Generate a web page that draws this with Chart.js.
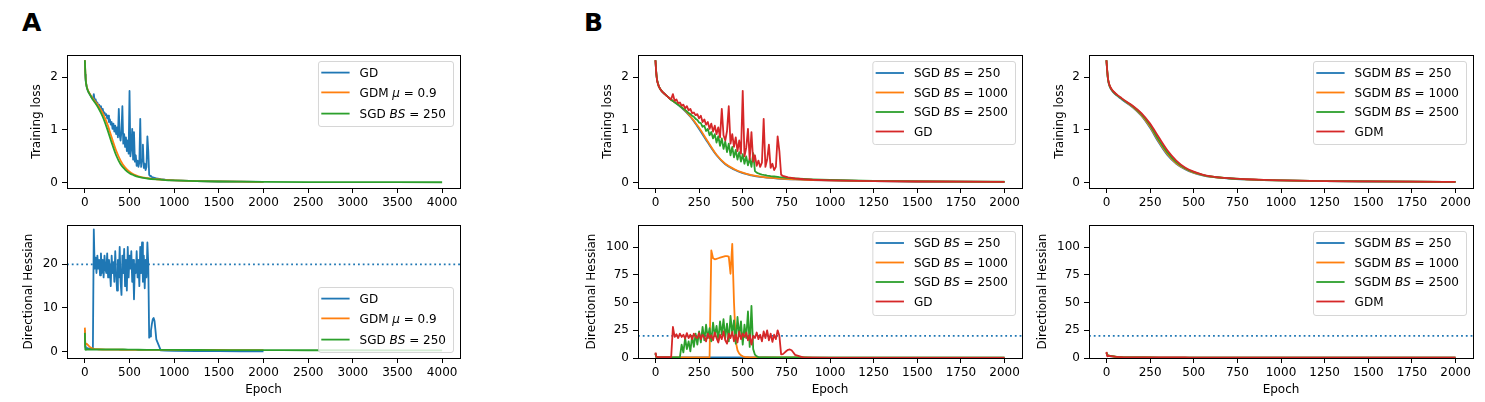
<!DOCTYPE html>
<html>
<head>
<meta charset="utf-8">
<script src="https://cdn.jsdelivr.net/npm/chart.js@4.4.0/dist/chart.umd.min.js"></script>
<style>
  html, body { margin: 0; padding: 0; background: #fff; }
  body { width: 1485px; height: 402px; position: relative; overflow: hidden; }
  canvas { position: absolute; }
  .tag { position: absolute; font: bold 25px "DejaVu Sans", sans-serif; line-height: 25px; color: #000; }
</style>
</head>
<body>
<div class="tag" style="left:22px; top:10px">A</div>
<div class="tag" style="left:584px; top:10px">B</div>
<script>
// ---- logged epochs ----
const epochsFine = [0, 5, 10, 20, 30, 40, 50, 60, 70, 80, 90, 100,
  110, 120, 130, 140, 150, 160, 170, 180, 190, 200,
  210, 220, 230, 240, 250, 260, 270, 280, 290, 300,
  310, 320, 330, 340, 350, 360, 370, 380, 390, 400,
  410, 420, 430, 440, 450, 460, 470, 480, 490, 500,
  510, 520, 530, 540, 550, 560, 570, 580, 590, 600,
  610, 620, 630, 640, 650, 660, 670, 680, 690, 700,
  710, 720, 730, 740, 750, 760, 770, 780, 790, 800,
  850, 900, 1000, 1250, 1500, 1750, 2000];
const epochsCoarse = [0, 5, 10, 20, 40, 60, 80, 100, 150, 200, 250, 300, 350, 400, 450, 500,
  550, 600, 700, 800, 900, 1000, 1250, 1500, 1750, 2000];
const epochsLong = [0, 5, 10, 20, 40, 60, 80, 100, 150, 200, 250, 300, 350, 400, 450, 500,
  550, 600, 700, 800, 900, 1000, 1250, 1500, 1750, 2000, 2500, 3000, 3500, 4000];

// ---- training loss ----
const gdLoss = [2.32, 2.05, 1.92, 1.82, 1.76, 1.72, 1.69, 1.66, 1.63, 1.60, 1.58, 1.68,
  1.55, 1.58, 1.51, 1.52, 1.46, 1.48, 1.41, 1.45, 1.37, 1.40,
  1.32, 1.33, 1.28, 1.30, 1.22, 1.27, 1.15, 1.20, 1.10, 1.15,
  1.02, 1.12, 0.97, 1.08, 0.92, 1.05, 0.86, 1.40, 0.90, 0.80,
  0.98, 1.45, 0.74, 0.92, 0.68, 0.86, 0.60, 0.80, 0.55, 1.74,
  0.50, 0.66, 1.02, 0.44, 0.96, 0.40, 0.52, 0.32, 0.42, 0.30,
  0.38, 1.21, 0.30, 0.44, 0.72, 0.28, 0.36, 0.24, 0.30, 0.88,
  0.60, 0.15, 0.13, 0.12, 0.11, 0.10, 0.095, 0.09, 0.085, 0.08,
  0.066, 0.056, 0.045, 0.031, 0.023, 0.019, 0.016];
const sgd2500Loss = [2.32, 2.06, 1.93, 1.82, 1.76, 1.72, 1.69, 1.66, 1.63, 1.60, 1.57, 1.55,
  1.53, 1.50, 1.48, 1.45, 1.43, 1.40, 1.38, 1.35, 1.32, 1.30,
  1.27, 1.25, 1.21, 1.19, 1.14, 1.13, 1.06, 1.08, 0.98, 1.02,
  0.90, 0.96, 0.84, 0.92, 0.76, 0.88, 0.70, 0.84, 0.64, 0.78,
  0.58, 0.74, 0.52, 0.68, 0.48, 0.62, 0.44, 0.58, 0.40, 0.54,
  0.36, 0.50, 0.33, 0.46, 0.30, 0.56, 0.22, 0.19, 0.175, 0.165,
  0.155, 0.148, 0.142, 0.136, 0.131, 0.126, 0.122, 0.118, 0.114, 0.110,
  0.106, 0.103, 0.100, 0.097, 0.094, 0.091, 0.089, 0.086, 0.084, 0.082,
  0.072, 0.064, 0.052, 0.036, 0.027, 0.021, 0.018];
const sgd250Loss = [2.32, 2.08, 1.94, 1.82, 1.72, 1.66, 1.60, 1.55, 1.42, 1.25, 1.02, 0.76, 0.52, 0.35, 0.25, 0.18,
  0.14, 0.11, 0.08, 0.062, 0.05, 0.043, 0.03, 0.023, 0.019, 0.016, 0.013, 0.011, 0.010, 0.009];
const sgd1000Loss = [2.32, 2.08, 1.94, 1.82, 1.72, 1.66, 1.60, 1.55, 1.43, 1.26, 1.04, 0.78, 0.53, 0.36, 0.26, 0.19,
  0.145, 0.115, 0.082, 0.064, 0.052, 0.044, 0.031, 0.024, 0.02, 0.017];
const gdmLoss = [2.32, 2.10, 1.95, 1.83, 1.73, 1.67, 1.62, 1.57, 1.46, 1.32, 1.12, 0.86, 0.61, 0.42, 0.29, 0.21,
  0.155, 0.122, 0.086, 0.066, 0.053, 0.045, 0.032, 0.025, 0.02, 0.017];
const sgdm250Loss = [2.32, 2.08, 1.93, 1.81, 1.71, 1.65, 1.60, 1.55, 1.43, 1.27, 1.04, 0.76, 0.52, 0.36, 0.255, 0.185,
  0.14, 0.11, 0.08, 0.062, 0.05, 0.043, 0.03, 0.023, 0.019, 0.016];
const sgdm1000Loss = [2.32, 2.09, 1.94, 1.82, 1.72, 1.66, 1.61, 1.56, 1.44, 1.28, 1.06, 0.78, 0.54, 0.37, 0.265, 0.19,
  0.145, 0.113, 0.082, 0.063, 0.051, 0.044, 0.031, 0.024, 0.019, 0.016];
const sgdm2500Loss = [2.32, 2.09, 1.94, 1.82, 1.72, 1.66, 1.61, 1.56, 1.45, 1.30, 1.09, 0.81, 0.57, 0.39, 0.275, 0.2,
  0.15, 0.118, 0.085, 0.065, 0.052, 0.045, 0.032, 0.024, 0.02, 0.017];

// ---- directional hessian ----
const gdHess = [5.0, 1.2, 0.9, 0.8, 0.8, 0.7, 0.7, 0.7, 0.7, 0.7, 0.8, 28.0,
  19.0, 21.5, 18.0, 22.0, 19.0, 21.0, 17.5, 22.5, 18.0, 21.0,
  17.0, 22.0, 19.0, 18.0, 22.5, 17.0, 21.0, 19.0, 15.0, 22.0,
  18.0, 20.5, 16.0, 23.0, 18.0, 14.0, 21.0, 17.0, 24.0, 16.0,
  13.0, 22.0, 18.0, 23.5, 15.0, 21.0, 14.0, 24.0, 17.0, 22.0,
  19.0, 23.0, 16.0, 21.0, 12.0, 20.0, 18.0, 23.0, 17.0, 21.0,
  15.0, 24.0, 18.0, 25.0, 16.0, 22.0, 14.5, 21.0, 17.0, 25.0,
  20.0, 3.2, 3.5, 4.8, 6.3, 7.4, 7.7, 7.0, 5.0, 2.8,
  0.3, 0.25, 0.2, 0.15, 0.12, 0.1, 0.1];
const sgd1000Hess = [4.0, 0.8, 0.6, 0.55, 0.5, 0.5, 0.5, 0.5, 0.5, 0.5, 0.5, 0.5,
  0.5, 0.5, 0.5, 0.5, 0.5, 0.5, 0.5, 0.5, 0.5, 0.5,
  0.5, 0.5, 0.5, 0.5, 0.5, 0.5, 0.5, 0.5, 0.5, 0.5,
  0.6, 97.0, 90.0, 89.0, 89.5, 90.0, 90.5, 91.0, 91.5, 92.0,
  92.0, 91.5, 76.0, 103.0, 50.0, 15.0, 7.0, 4.0, 2.5, 1.5,
  1.0, 0.8, 0.7, 0.6, 0.55, 0.5, 0.5, 0.5, 0.5, 0.5,
  0.5, 0.5, 0.5, 0.5, 0.5, 0.5, 0.5, 0.5, 0.5, 0.5,
  0.5, 0.5, 0.5, 0.5, 0.5, 0.5, 0.5, 0.5, 0.5, 0.5,
  0.45, 0.4, 0.4, 0.35, 0.3, 0.3, 0.3];
const sgd2500Hess = [4.0, 0.8, 0.6, 0.55, 0.5, 0.5, 0.5, 0.5, 0.5, 0.5, 0.5, 0.5,
  0.5, 0.5, 0.5, 0.8, 12.0, 5.0, 18.0, 8.0, 15.0, 6.0,
  20.0, 10.0, 22.0, 12.0, 24.0, 14.0, 28.0, 16.0, 30.0, 18.0,
  27.0, 15.0, 32.0, 20.0, 29.0, 16.0, 33.0, 21.0, 35.0, 18.0,
  31.0, 15.0, 38.0, 22.0, 34.0, 13.0, 37.0, 20.0, 33.0, 12.0,
  30.0, 18.0, 42.0, 10.0, 47.0, 8.0, 3.0, 1.5, 0.8, 0.6,
  0.5, 0.5, 0.5, 0.5, 0.5, 0.5, 0.5, 0.5, 0.5, 0.5,
  0.5, 0.5, 0.5, 0.5, 0.5, 0.5, 0.5, 0.5, 0.5, 0.5,
  0.45, 0.4, 0.4, 0.35, 0.3, 0.3, 0.3];
const sgd250Hess = [4.3, 0.5, 0.4, 0.5, 0.5, 0.5, 0.5, 0.5, 0.5, 0.5, 0.5, 0.5, 0.5, 0.5, 0.5, 0.48,
  0.46, 0.44, 0.42, 0.41, 0.40, 0.39, 0.38, 0.37, 0.36, 0.35, 0.33, 0.32, 0.31, 0.30];
const gdmHess = [5.5, 1.4, 1.9, 1.8, 1.4, 1.0, 0.8, 0.65, 0.55, 0.5, 0.48, 0.46, 0.45, 0.44, 0.43, 0.42,
  0.42, 0.41, 0.4, 0.4, 0.39, 0.39, 0.38, 0.38, 0.37, 0.37];
const sgdm250Hess = [4.6, 2.6, 2.2, 1.8, 1.3, 0.9, 0.7, 0.55, 0.48, 0.44, 0.42, 0.4, 0.39, 0.38, 0.37, 0.36,
  0.36, 0.35, 0.35, 0.34, 0.34, 0.33, 0.33, 0.32, 0.32, 0.31];
const sgdm1000Hess = [4.8, 2.7, 2.3, 1.9, 1.35, 0.95, 0.72, 0.57, 0.49, 0.45, 0.43, 0.41, 0.4, 0.39, 0.38, 0.37,
  0.37, 0.36, 0.36, 0.35, 0.35, 0.34, 0.34, 0.33, 0.33, 0.32];
const sgdm2500Hess = [5.0, 2.8, 2.4, 2.0, 1.4, 0.98, 0.75, 0.6, 0.51, 0.46, 0.44, 0.42, 0.41, 0.4, 0.39, 0.38,
  0.38, 0.37, 0.37, 0.36, 0.36, 0.35, 0.35, 0.34, 0.34, 0.33];
const hessLimit = 20; // 2 / learning rate

// ---- ticks and labels ----
const ticksEpochA = [0, 500, 1000, 1500, 2000, 2500, 3000, 3500, 4000];
const ticksEpochB = [0, 250, 500, 750, 1000, 1250, 1500, 1750, 2000];
const ticksLoss = [0, 1, 2];
const ticksHessA = [0, 10, 20];
const ticksHessB = [0, 25, 50, 75, 100];
const labelsA = ['GD', 'GDM $μ$ = 0.9', 'SGD $BS$ = 250'];
const labelsSGD = ['SGD $BS$ = 250', 'SGD $BS$ = 1000', 'SGD $BS$ = 2500', 'GD'];
const labelsSGDM = ['SGDM $BS$ = 250', 'SGDM $BS$ = 1000', 'SGDM $BS$ = 2500', 'GDM'];

const colors = ['#1f77b4', '#ff7f0e', '#2ca02c', '#d62728'];
const FONT = '"DejaVu Sans", sans-serif';
Chart.defaults.font.family = FONT;
Chart.defaults.font.size = 12;
Chart.defaults.color = '#000';

const rowsA = [11.6, 31.4, 52.6];
const rowsB = [12, 31.5, 51, 70.5];

const panels = [
  { box: [67, 55, 460, 188], x: [-200, 4200], xTicks: ticksEpochA, y: [-0.1, 2.42], yTicks: ticksLoss,
    yTitle: 'Training loss', titleGap: 30, legend: { corner: 'top', rows: rowsA, h: 65 },
    series: [
      { label: labelsA[0], color: colors[0], xs: epochsFine, ys: gdLoss },
      { label: labelsA[1], color: colors[1], xs: epochsCoarse, ys: gdmLoss, smooth: true },
      { label: labelsA[2], color: colors[2], xs: epochsLong, ys: sgd250Loss, smooth: true }] },
  { box: [67, 225, 460, 358], x: [-200, 4200], xTicks: ticksEpochA, y: [-1.45, 29.0], yTicks: ticksHessA,
    yTitle: 'Directional Hessian', titleGap: 38.5, xTitle: 'Epoch', hline: hessLimit,
    legend: { corner: 'bottom', rows: rowsA, h: 65 },
    series: [
      { label: labelsA[0], color: colors[0], xs: epochsFine, ys: gdHess },
      { label: labelsA[1], color: colors[1], xs: epochsCoarse, ys: gdmHess, smooth: true },
      { label: labelsA[2], color: colors[2], xs: epochsLong, ys: sgd250Hess, smooth: true }] },
  { box: [638, 55, 1022, 188], x: [-100, 2100], xTicks: ticksEpochB, y: [-0.1, 2.42], yTicks: ticksLoss,
    yTitle: 'Training loss', titleGap: 29.7, legend: { corner: 'top', rows: rowsB, h: 83 },
    series: [
      { label: labelsSGD[0], color: colors[0], xs: epochsLong, ys: sgd250Loss, smooth: true },
      { label: labelsSGD[1], color: colors[1], xs: epochsCoarse, ys: sgd1000Loss, smooth: true },
      { label: labelsSGD[2], color: colors[2], xs: epochsFine, ys: sgd2500Loss },
      { label: labelsSGD[3], color: colors[3], xs: epochsFine, ys: gdLoss }] },
  { box: [638, 225, 1022, 358], x: [-100, 2100], xTicks: ticksEpochB, y: [0, 120], yTicks: ticksHessB,
    yTitle: 'Directional Hessian', titleGap: 46.3, xTitle: 'Epoch', hline: hessLimit,
    legend: { corner: 'top', rows: rowsB, h: 84 },
    series: [
      { label: labelsSGD[0], color: colors[0], xs: epochsLong, ys: sgd250Hess, smooth: true },
      { label: labelsSGD[1], color: colors[1], xs: epochsFine, ys: sgd1000Hess },
      { label: labelsSGD[2], color: colors[2], xs: epochsFine, ys: sgd2500Hess },
      { label: labelsSGD[3], color: colors[3], xs: epochsFine, ys: gdHess }] },
  { box: [1089, 55, 1473, 188], x: [-100, 2100], xTicks: ticksEpochB, y: [-0.1, 2.42], yTicks: ticksLoss,
    yTitle: 'Training loss', titleGap: 29.3, legend: { corner: 'top', rows: rowsB, h: 83 },
    series: [
      { label: labelsSGDM[0], color: colors[0], xs: epochsCoarse, ys: sgdm250Loss, smooth: true },
      { label: labelsSGDM[1], color: colors[1], xs: epochsCoarse, ys: sgdm1000Loss, smooth: true },
      { label: labelsSGDM[2], color: colors[2], xs: epochsCoarse, ys: sgdm2500Loss, smooth: true },
      { label: labelsSGDM[3], color: colors[3], xs: epochsCoarse, ys: gdmLoss, smooth: true }] },
  { box: [1089, 225, 1473, 358], x: [-100, 2100], xTicks: ticksEpochB, y: [0, 120], yTicks: ticksHessB,
    yTitle: 'Directional Hessian', titleGap: 46.6, xTitle: 'Epoch', hline: hessLimit,
    legend: { corner: 'top', rows: rowsB, h: 84 },
    series: [
      { label: labelsSGDM[0], color: colors[0], xs: epochsCoarse, ys: sgdm250Hess, smooth: true },
      { label: labelsSGDM[1], color: colors[1], xs: epochsCoarse, ys: sgdm1000Hess, smooth: true },
      { label: labelsSGDM[2], color: colors[2], xs: epochsCoarse, ys: sgdm2500Hess, smooth: true },
      { label: labelsSGDM[3], color: colors[3], xs: epochsCoarse, ys: gdmHess, smooth: true }] }
];

function points(xs, ys, maxX) {
  const out = [];
  xs.forEach((x, i) => { if (x <= maxX) out.push({ x: x, y: ys[i] }); });
  return out;
}

// labels use $...$ for the italic (math) parts
function richParts(label) {
  return label.split('$').map((s, i) => ({ s: s, italic: i % 2 === 1 }));
}
function richWidth(ctx, label) {
  let w = 0;
  for (const p of richParts(label)) {
    ctx.font = (p.italic ? 'italic ' : '') + '12px ' + FONT;
    w += ctx.measureText(p.s).width;
  }
  return w;
}
function drawRich(ctx, label, x, y) {
  for (const p of richParts(label)) {
    ctx.font = (p.italic ? 'italic ' : '') + '12px ' + FONT;
    ctx.fillText(p.s, x, y);
    x += ctx.measureText(p.s).width;
  }
}
function roundRect(ctx, x, y, w, h, r) {
  ctx.beginPath();
  ctx.moveTo(x + r, y);
  ctx.lineTo(x + w - r, y);
  ctx.arcTo(x + w, y, x + w, y + r, r);
  ctx.lineTo(x + w, y + h - r);
  ctx.arcTo(x + w, y + h, x + w - r, y + h, r);
  ctx.lineTo(x + r, y + h);
  ctx.arcTo(x, y + h, x, y + h - r, r);
  ctx.lineTo(x, y + r);
  ctx.arcTo(x, y, x + r, y, r);
  ctx.closePath();
}

function panelPlugin(p) {
  return {
    id: 'panelDecor',
    beforeDatasetsDraw(chart) {
      if (p.hline === undefined) return;
      const { ctx, chartArea: ca } = chart;
      const y = chart.scales.y.getPixelForValue(p.hline);
      ctx.save();
      ctx.strokeStyle = colors[0];
      ctx.lineWidth = 1.8;
      ctx.setLineDash([1.8, 2.97]);
      ctx.beginPath();
      ctx.moveTo(ca.left, y);
      ctx.lineTo(ca.right, y);
      ctx.stroke();
      ctx.restore();
    },
    afterDatasetsDraw(chart) {
      const { ctx, chartArea: ca } = chart;
      ctx.save();
      ctx.strokeStyle = '#000';
      ctx.lineWidth = 1;
      ctx.strokeRect(ca.left + 0.5, ca.top + 0.5, ca.right - ca.left, ca.bottom - ca.top);
      ctx.restore();
    },
    afterDraw(chart) {
      const { ctx, chartArea: ca } = chart;
      const lg = p.legend;
      ctx.save();
      const tw = Math.max(...p.series.map(s => richWidth(ctx, s.label)));
      const w = 3.3 + 28.3 + 10 + tw + 7;
      const x = ca.right - 7 - w;
      const y = lg.corner === 'top' ? ca.top + 6 : ca.bottom - 6 - lg.h;
      roundRect(ctx, x + 0.5, y + 0.5, w, lg.h, 2.5);
      ctx.fillStyle = 'rgba(255,255,255,0.8)';
      ctx.fill();
      ctx.strokeStyle = 'rgba(204,204,204,0.8)';
      ctx.lineWidth = 1;
      ctx.stroke();
      p.series.forEach((s, i) => {
        const ry = y + lg.rows[i];
        ctx.strokeStyle = s.color;
        ctx.lineWidth = 1.8;
        ctx.beginPath();
        ctx.moveTo(x + 3.3, ry);
        ctx.lineTo(x + 31.6, ry);
        ctx.stroke();
        ctx.fillStyle = '#000';
        ctx.textBaseline = 'alphabetic';
        drawRich(ctx, s.label, x + 41.6, ry + 4.4);
      });
      ctx.restore();
    }
  };
}

const tickGrid = { drawOnChartArea: false, drawTicks: true, tickLength: 5, tickWidth: 1,
  tickColor: '#000', color: '#000', lineWidth: 1 };

function makePanel(p) {
  const [l, t, r, b] = p.box;
  const axisW = 62, padT = 14, padR = 14;
  const axisH = p.xTitle ? 402 - b : 28;
  const cv = document.createElement('canvas');
  const w = r - l + axisW + padR, h = b - t + padT + axisH;
  cv.width = w; cv.height = h;
  cv.style.left = (l - axisW) + 'px';
  cv.style.top = (t - padT) + 'px';
  cv.style.width = w + 'px';
  cv.style.height = h + 'px';
  document.body.appendChild(cv);

  const maxX = p.xTicks[p.xTicks.length - 1];
  const n = p.series.length;
  const datasets = p.series.map((s, i) => ({
    label: s.label,
    data: points(s.xs, s.ys, maxX),
    borderColor: s.color,
    backgroundColor: s.color,
    borderWidth: 1.8,
    borderJoinStyle: 'round',
    pointRadius: 0,
    fill: false,
    tension: 0,
    cubicInterpolationMode: s.smooth ? 'monotone' : 'default',
    order: n - i
  }));

  new Chart(cv, {
    type: 'line',
    data: { datasets: datasets },
    options: {
      responsive: false,
      animation: false,
      events: [],
      layout: { padding: { left: 0, top: padT, right: padR, bottom: 0 }, autoPadding: false },
      plugins: { legend: { display: false }, tooltip: { enabled: false } },
      scales: {
        x: {
          type: 'linear', bounds: 'data', min: p.x[0], max: p.x[1],
          afterBuildTicks: s => { s.ticks = p.xTicks.map(v => ({ value: v })); },
          afterFit: s => { s.height = axisH; },
          ticks: { callback: v => String(v), autoSkip: false, maxRotation: 0, padding: 3, color: '#000' },
          grid: tickGrid,
          border: { display: false },
          title: p.xTitle
            ? { display: true, text: p.xTitle, color: '#000', padding: { top: 0, bottom: 5.1 } }
            : { display: false }
        },
        y: {
          type: 'linear', bounds: 'data', min: p.y[0], max: p.y[1],
          afterBuildTicks: s => { s.ticks = p.yTicks.map(v => ({ value: v })); },
          afterFit: s => { s.width = axisW; },
          ticks: { callback: v => String(v), autoSkip: false, padding: 4, color: '#000' },
          grid: tickGrid,
          border: { display: false },
          title: { display: true, text: p.yTitle, color: '#000',
                   padding: { top: axisW - 7.2 - p.titleGap, bottom: 0 } }
        }
      }
    },
    plugins: [panelPlugin(p)]
  });
}

panels.forEach(makePanel);
</script>
</body>
</html>
